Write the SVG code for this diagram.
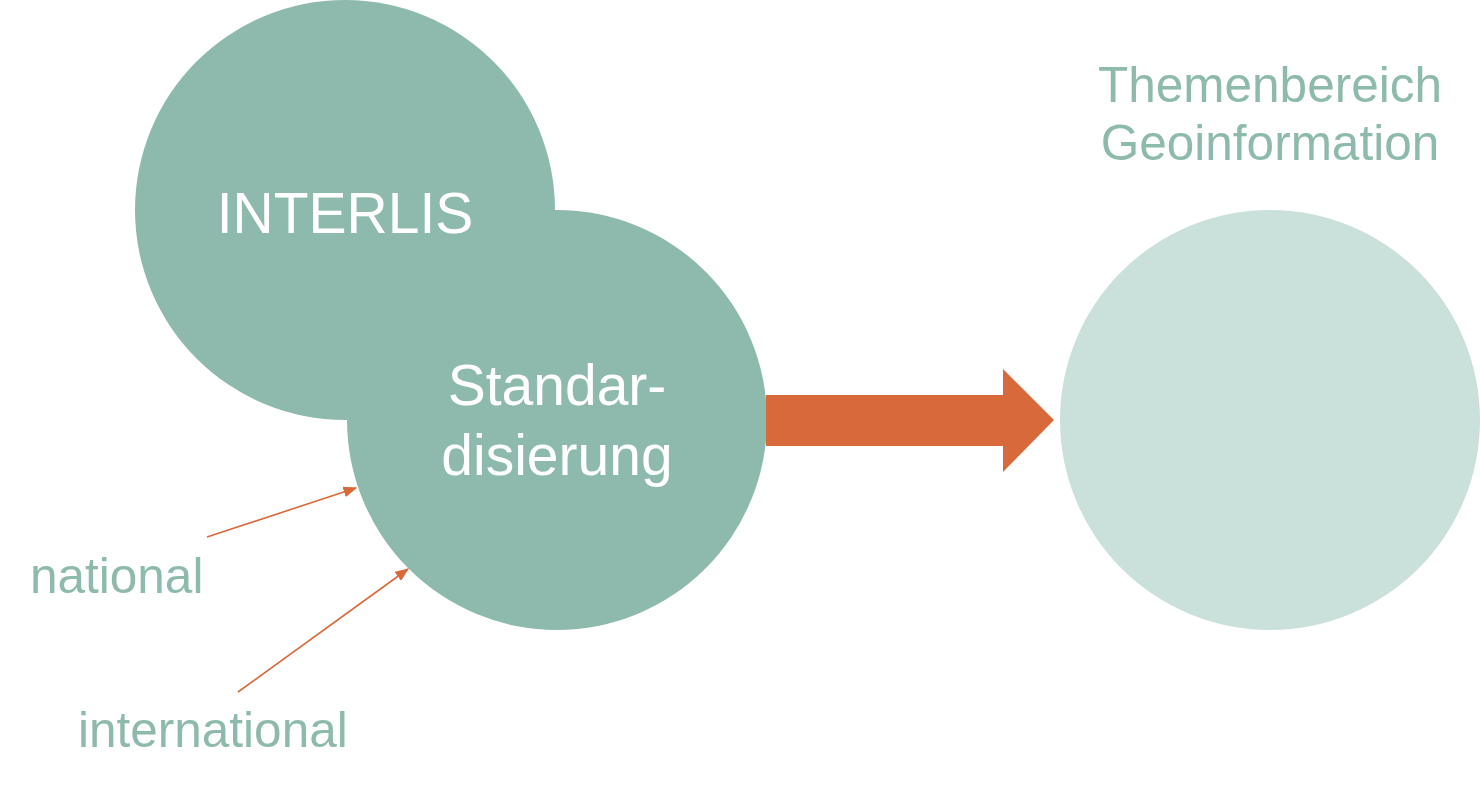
<svg xmlns="http://www.w3.org/2000/svg" width="1480" height="790" viewBox="0 0 1480 790">
<defs>
<style>
.t{font-family:"Liberation Sans",Arial,sans-serif;}
.w{fill:#ffffff;font-size:57px;}
.g{fill:#8EBAAD;font-size:49.5px;}
.c{fill:#8EBAAD;}
.thin{stroke:#D8693A;stroke-width:1.6;fill:none;}
</style>
<marker id="ah2" viewBox="0 0 10 10" refX="9" refY="5" markerWidth="14" markerHeight="11" orient="auto" markerUnits="userSpaceOnUse" preserveAspectRatio="none">
<path d="M0,0 L10,5 L0,10 z" fill="#D8693A"/>
</marker>
</defs>
<rect width="1480" height="790" fill="#ffffff"/>
<g id="interlis">
<circle class="c" cx="345" cy="210" r="210"/>
</g>
<g id="standardisierung">
<circle class="c" cx="557" cy="420" r="210"/>
</g>
<g id="geoinformation">
<circle cx="1270" cy="420" r="210" fill="#CAE0DA"/>
</g>
<g id="labels">
<text class="t w" x="345" y="233" text-anchor="middle">INTERLIS</text>
<text class="t w" x="557" y="405" text-anchor="middle">Standar-</text>
<text class="t w" x="557" y="475" text-anchor="middle">disierung</text>
<text class="t g" x="1270" y="102" text-anchor="middle">Themenbereich</text>
<text class="t g" x="1270" y="160" text-anchor="middle">Geoinformation</text>
<text class="t g" x="30" y="593">national</text>
<text class="t g" x="78" y="747">international</text>
</g>
<g id="connectors">
<path d="M766,395 L1003,395 L1003,369 L1054,420 L1003,472 L1003,446 L766,446 Z" fill="#D8693A"/>
<line class="thin" x1="207" y1="537" x2="356" y2="488" marker-end="url(#ah2)"/>
<line class="thin" x1="238" y1="692" x2="408" y2="569" marker-end="url(#ah2)"/>
</g>
</svg>
